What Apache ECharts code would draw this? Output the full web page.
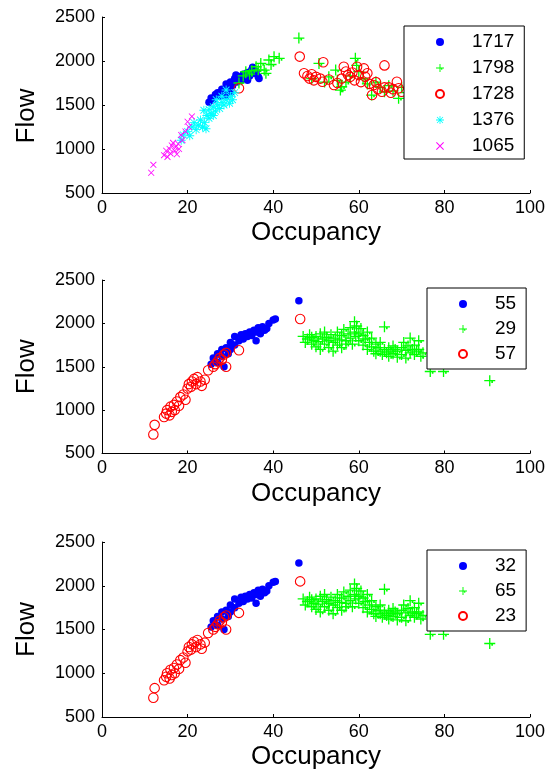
<!DOCTYPE html>
<html><head><meta charset="utf-8">
<script src="https://cdn.jsdelivr.net/npm/echarts@6/dist/echarts.min.js"></script>
<style>html,body{margin:0;padding:0;background:#fff}#c{width:548px;height:773px}</style>
</head><body><div id="c"></div>
<script>
// ---- axis ranges / tick labels ----
const occTicks = [0, 20, 40, 60, 80, 100];
const flowTicks = [500, 1000, 1500, 2000, 2500];
const xLabel = 'Occupancy';
const yLabel = 'Flow';

// ---- panel 1 (detectors) ----
const legend1 = ['1717', '1798', '1728', '1376', '1065'];
const p1Blue = [[25,1530],[25.5,1580],[26,1560],[26.5,1620],[27,1640],[27.5,1600],[28,1680],[28.5,1650],[29,1740],[29,1600],[29.5,1700],[30,1760],[30.5,1720],[31,1800],[31.3,1840],[31.5,1760],[32,1820],[32.5,1780],[33,1850],[33.5,1800],[34,1870],[34.5,1830],[35,1900],[35.2,1930],[35.5,1860],[36,1880],[36.5,1820],[36.7,1800],[34,1780],[30,1640]];
const p1Green = [[32,1750],[33,1830],[33.6,1878],[34.5,1850],[35,1890],[36,1935],[36.5,1900],[37.1,1973],[37.9,1897],[38.3,1860],[39,2011],[39.5,1960],[40.2,2049],[41.4,2030],[46,2260],[49,1800],[50.7,1973],[52,1760],[53,1820],[54.6,1897],[55,1780],[55.7,1670],[56,1707],[57,1760],[58,1830],[59.2,2030],[59.5,1950],[60,1880],[61,1800],[62,1740],[63,1613],[64,1760],[65,1700],[66,1650],[67,1720],[68,1660],[69.3,1576],[70,1700],[71,1640]];
const p1Red = [[32,1690],[46.2,2050],[47.2,1860],[48,1830],[48.5,1800],[49,1850],[49.5,1780],[50,1820],[51,1800],[51.5,1765],[51.7,1985],[53,1790],[54.2,1727],[55,1750],[56,1800],[56.5,1935],[57,1880],[57.5,1840],[58,1820],[58.5,1870],[59,1780],[59.6,1935],[60,1840],[60.5,1760],[61.2,1916],[61.5,1820],[62,1860],[62.5,1740],[63.1,1613],[63.5,1727],[64,1760],[64.5,1680],[65.4,1651],[66,1950],[66,1700],[67,1700],[67.5,1640],[68,1680],[68.9,1765],[69.3,1690],[70,1650]];
const p1Cyan = [[18.5,1100],[19,1160],[20,1200],[20.5,1150],[21,1250],[21.5,1300],[22,1220],[22.5,1270],[23,1330],[23.5,1250],[23.8,1440],[24,1300],[24.3,1230],[24.5,1380],[25,1350],[25,1450],[25.5,1400],[26,1480],[26,1380],[26.5,1430],[26.7,1560],[27,1500],[27.5,1460],[28,1530],[28,1600],[28.5,1500],[29,1670],[29,1560],[29.8,1520],[30,1600],[31,1640],[30.5,1560]];
const p1Magenta = [[11.5,730],[12,820],[14.5,930],[15,980],[15.3,910],[15.8,1000],[16,950],[16.3,1040],[16.6,1070],[17,980],[17.2,1020],[17.5,940],[18,1000],[18.5,1160],[18.8,1100],[19.5,1200],[20.3,1250],[21,1370],[20,1310],[17.8,1060]];

// ---- panels 2 and 3 (same points, different labels) ----
const legend2 = ['55', '29', '57'];
const legend3 = ['32', '65', '23'];
const p23Blue = [[25.5,1530],[26,1600],[27,1550],[27,1650],[28,1620],[28,1700],[28.5,1500],[29,1720],[29.5,1650],[30,1780],[30,1700],[31,1750],[31,1850],[32,1800],[32.5,1870],[33,1820],[33.5,1880],[34,1850],[34.5,1900],[35,1860],[35.5,1920],[36,1900],[36,1800],[36.5,1950],[37,1880],[37.5,1960],[38,1920],[38.5,1940],[39,2000],[40,2040],[40.5,2050],[46,2260]];
const p23Green = [[47,1850],[47.5,1780],[48,1820],[48.5,1870],[49,1760],[49,1840],[49.5,1800],[50,1850],[50,1730],[50.5,1790],[51,1880],[51,1700],[51.5,1820],[52,1760],[52,1900],[52.5,1840],[53,1720],[53,1800],[53.5,1870],[54,1780],[54,1680],[54.5,1830],[55,1750],[55,1900],[55.5,1810],[56,1860],[56,1720],[56.5,1930],[57,1800],[57,1760],[57.5,1880],[58,1950],[58,1830],[58.5,1760],[59,2020],[59,1900],[59.3,1850],[59.5,1970],[60,1880],[60,1800],[60.5,1940],[61,1860],[61,1750],[61.5,1820],[62,1900],[62,1700],[62.5,1780],[63,1730],[63,1830],[63.5,1680],[64,1760],[64,1650],[64.5,1720],[65,1680],[65,1780],[65.5,1640],[66,1700],[66,1960],[66.5,1660],[67,1720],[67,1620],[67.5,1680],[68,1650],[68,1740],[68.5,1700],[69,1610],[69,1680],[70,1720],[70,1640],[70.5,1780],[71,1690],[71,1600],[71.5,1740],[72,1660],[72,1830],[72.5,1700],[73,1750],[73,1640],[73.5,1680],[74,1800],[74,1700],[74.5,1620],[75,1660],[76.7,1445],[79.8,1445],[78,1650],[80,1600],[82,1620],[85,1580],[90.6,1340]];
const p23Red = [[12,720],[12.3,830],[14.5,920],[15,960],[15.2,1000],[15.8,940],[16,1040],[16.3,980],[16.8,1060],[17,1000],[17.5,1100],[18,1050],[18.3,1150],[19,1180],[19.5,1120],[20,1250],[20.3,1300],[20.8,1270],[21,1330],[21.5,1360],[22,1300],[22.3,1380],[23,1330],[23.3,1280],[24,1350],[24.8,1460],[26,1500],[26.5,1530],[27,1560],[27.5,1600],[28,1580],[28.5,1640],[29,1660],[29,1500],[32,1690],[46.3,2050]];

const F = '"Liberation Sans", Arial, Helvetica, sans-serif';
const PLUS = 'path://M0,4.4L10,4.4L10,5.6L0,5.6Z M4.4,0L5.6,0L5.6,10L4.4,10Z M6.4,5.6L7.9,5.6L7.9,7.1L6.4,7.1Z';
const STAR = 'path://M0,4.5L10,4.5L10,5.5L0,5.5Z M4.5,0L5.5,0L5.5,10L4.5,10Z M0.9,1.6L1.6,0.9L9.1,8.4L8.4,9.1Z M8.4,0.9L9.1,1.6L1.6,9.1L0.9,8.4Z';
const XMARK = 'path://M0,0.9L0.9,0L10,9.1L9.1,10Z M9.1,0L10,0.9L0.9,10L0,9.1Z';

const grids = [
  {left: 102, top: 17, width: 430, height: 176},
  {left: 102, top: 280, width: 430, height: 173.5},
  {left: 102, top: 542, width: 430, height: 175}
];

function xAx(i) {
  return {type: 'value', gridIndex: i, min: occTicks[0], max: occTicks[occTicks.length - 1], interval: occTicks[1] - occTicks[0],
    name: xLabel, nameLocation: 'middle', nameGap: 27,
    nameTextStyle: {fontSize: 26, color: '#000', fontFamily: F},
    axisLine: {onZero: false, lineStyle: {color: '#000', width: 1}},
    axisTick: {inside: true, length: 3, lineStyle: {color: '#000'}},
    axisLabel: {fontSize: 18, color: '#000', margin: 6, fontFamily: F, formatter: v => String(v)},
    splitLine: {show: false}};
}
function yAx(i, pad) {
  return {type: 'value', gridIndex: i, min: flowTicks[0], max: flowTicks[flowTicks.length - 1], interval: flowTicks[1] - flowTicks[0],
    name: yLabel, nameLocation: 'middle', nameGap: 62,
    nameTextStyle: {fontSize: 26, color: '#000', fontFamily: F, padding: pad},
    axisLine: {onZero: false, lineStyle: {color: '#000', width: 1}},
    axisTick: {inside: true, length: 3, lineStyle: {color: '#000'}},
    axisLabel: {fontSize: 18, color: '#000', margin: 7, fontFamily: F, formatter: v => String(v)},
    splitLine: {show: false}};
}
function legendOpt(top, left, data, gap, pad) {
  return {orient: 'vertical', left: left, top: top, data: data, itemWidth: 54, itemHeight: 8, itemGap: gap,
    padding: pad, backgroundColor: '#fff', borderColor: '#000', borderWidth: 1, borderRadius: 0,
    selectedMode: false,
    textStyle: {fontSize: 19, color: '#000', fontFamily: F, lineHeight: 20}};
}
function sc(name, i, data, kind) {
  const s = {type: 'scatter', name: name, xAxisIndex: i, yAxisIndex: i, data: data, animation: false,
    emphasis: {disabled: true}};
  if (kind === 'dot') { s.symbol = 'circle'; s.symbolSize = 7.5; s.itemStyle = {color: '#0000ff', opacity: 1}; }
  else if (kind === 'plus') { s.symbol = PLUS; s.symbolSize = 11; s.itemStyle = {color: '#00ff00', opacity: 1}; }
  else if (kind === 'circ') { s.symbol = 'circle'; s.symbolSize = 9.5; s.itemStyle = {color: 'rgba(255,255,255,0)', borderColor: '#ff0000', borderWidth: 1.1, opacity: 1}; }
  else if (kind === 'star') { s.symbol = STAR; s.symbolSize = 9; s.itemStyle = {color: '#00ffff', opacity: 1}; }
  else if (kind === 'x') { s.symbol = XMARK; s.symbolSize = 6.5; s.itemStyle = {color: '#ff00ff', opacity: 1}; }
  return s;
}

const chart = echarts.init(document.getElementById('c'), null, {renderer: 'canvas'});
chart.setOption({
  animation: false,
  backgroundColor: '#fff',
  grid: grids,
  xAxis: [xAx(0), xAx(1), xAx(2)],
  yAxis: [yAx(0, [0, 22, 0, 0]), yAx(1, 0), yAx(2, 0)],
  legend: [
    legendOpt(26, 404, legend1, 6, [6, 10, 3, 31]),
    legendOpt(288, 427, legend2, 5, [6, 10, 5, 31]),
    legendOpt(550, 427, legend3, 5, [6, 10, 5, 31])
  ],
  series: [
    sc(legend1[0], 0, p1Blue, 'dot'),
    sc(legend1[1], 0, p1Green, 'plus'),
    sc(legend1[2], 0, p1Red, 'circ'),
    sc(legend1[3], 0, p1Cyan, 'star'),
    sc(legend1[4], 0, p1Magenta, 'x'),
    sc(legend2[0], 1, p23Blue, 'dot'),
    sc(legend2[1], 1, p23Green, 'plus'),
    sc(legend2[2], 1, p23Red, 'circ'),
    sc(legend3[0], 2, p23Blue, 'dot'),
    sc(legend3[1], 2, p23Green, 'plus'),
    sc(legend3[2], 2, p23Red, 'circ')
  ]
});
</script></body></html>
